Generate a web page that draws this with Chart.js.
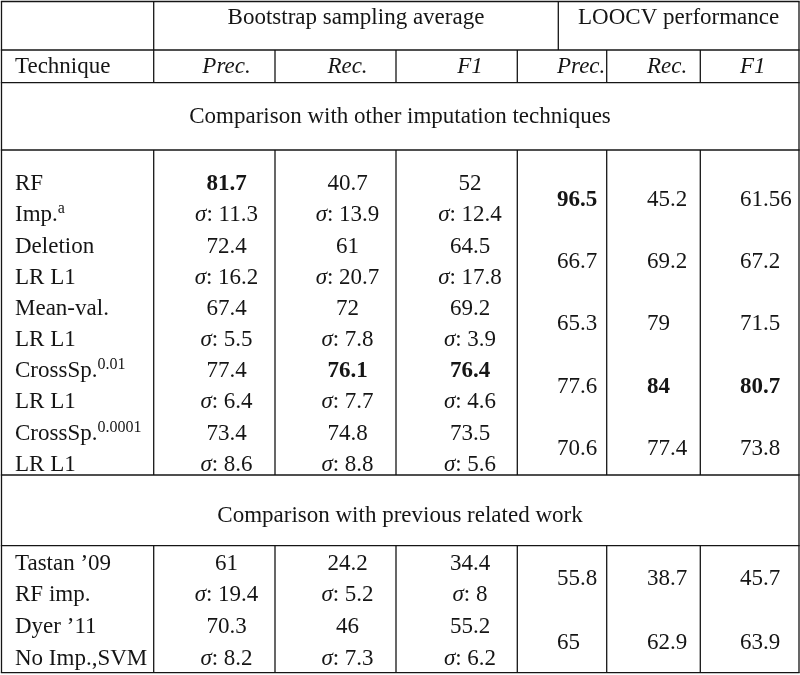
<!DOCTYPE html>
<html><head><meta charset="utf-8">
<script src="https://cdn.jsdelivr.net/npm/chart.js@4"></script>
<style>html,body{margin:0;padding:0;background:#fff}#wrap{width:800px;height:675px;position:relative}</style>
</head><body><div id="wrap"><canvas id="c"></canvas></div>
<script>
// ---- data ----
const groupHeaders = ["Bootstrap sampling average", "LOOCV performance"];
const columnHeaders = ["Technique", "Prec.", "Rec.", "F1", "Prec.", "Rec.", "F1"];
const sections = ["Comparison with other imputation techniques", "Comparison with previous related work"];
const sectionOf = [0, 0, 0, 0, 0, 1, 1];
const techniqueLine1 = ["RF", "Deletion", "Mean-val.", "CrossSp.", "CrossSp.", "Tastan \u201909", "Dyer \u201911"];
const techniqueSup1 = ["", "", "", "0.01", "0.0001", "", ""];
const techniqueLine2 = ["Imp.", "LR L1", "LR L1", "LR L1", "LR L1", "RF imp.", "No Imp.,SVM"];
const techniqueSup2 = ["a", "", "", "", "", "", ""];
const bootPrec = [81.7, 72.4, 67.4, 77.4, 73.4, 61, 70.3];
const bootPrecSd = [11.3, 16.2, 5.5, 6.4, 8.6, 19.4, 8.2];
const bootRec = [40.7, 61, 72, 76.1, 74.8, 24.2, 46];
const bootRecSd = [13.9, 20.7, 7.8, 7.7, 8.8, 5.2, 7.3];
const bootF1 = [52, 64.5, 69.2, 76.4, 73.5, 34.4, 55.2];
const bootF1Sd = [12.4, 17.8, 3.9, 4.6, 5.6, 8, 6.2];
const loocvPrec = [96.5, 66.7, 65.3, 77.6, 70.6, 55.8, 65];
const loocvRec = [45.2, 69.2, 79, 84, 77.4, 38.7, 62.9];
const loocvF1 = [61.56, 67.2, 71.5, 80.7, 73.8, 45.7, 63.9];

// ---- layout (table geometry in scale units) ----
const FONT = '"Liberation Serif","Times New Roman",Times,serif';
const FS = 23, SUP = 16;
const INK = '#151515';
const LW = 1.3;
const xLeft = 1.5, xRight = 799, xTech = 153.7, xSplit = 558.3;
const xInner = [275, 396, 517.3, 606.7, 700.3];
const yTop = 1.5, yH1 = 50, yH2 = 82.7, yS1 = 150, yS1end = 475, yS2 = 545.7, yBottom = 672.7;
const bootCenters = [226.5, 347.5, 470];
const loocvLefts = [557, 647, 740];
const techX = 15;
const sectionBase0 = [190.3, 31.15];
const sectionBase1 = [569.5, 31.8];

const tablePlugin = {
  id: 'tableDraw',
  afterDraw(chart) {
    const ctx = chart.ctx;
    const X = v => chart.scales.x.getPixelForValue(v);
    const Y = v => chart.scales.y.getPixelForValue(v);
    ctx.save();
    ctx.strokeStyle = INK; ctx.lineWidth = LW; ctx.fillStyle = INK;
    const hl = (y, x0, x1) => { ctx.beginPath(); ctx.moveTo(X(x0), Y(y)); ctx.lineTo(X(x1), Y(y)); ctx.stroke(); };
    const vl = (x, y0, y1) => { ctx.beginPath(); ctx.moveTo(X(x), Y(y0)); ctx.lineTo(X(x), Y(y1)); ctx.stroke(); };
    [yTop, yH1, yH2, yS1, yS1end, yS2, yBottom].forEach(y => hl(y, xLeft - LW/2, xRight + LW/2));
    vl(xLeft, yTop, yBottom); vl(xRight, yTop, yBottom);
    vl(xTech, yTop, yH2); vl(xTech, yS1, yS1end); vl(xTech, yS2, yBottom);
    vl(xSplit, yTop, yH1);
    xInner.forEach(x => { vl(x, yH1, yH2); vl(x, yS1, yS1end); vl(x, yS2, yBottom); });

    ctx.textBaseline = 'alphabetic';
    const font = (st, sz) => `${st || ''} ${sz || FS}px ${FONT}`.trim();
    function rich(parts, x, y, align) {
      let w = 0;
      parts.forEach(p => { ctx.font = font(p.st, p.sz); p.w = ctx.measureText(p.t).width; w += p.w; });
      let cx = align === 'center' ? x - w / 2 : align === 'right' ? x - w : x;
      ctx.textAlign = 'left';
      parts.forEach(p => { ctx.font = font(p.st, p.sz); ctx.fillText(p.t, X(cx), Y(y - (p.dy || 0))); cx += p.w; });
    }
    // headers
    rich([{t: groupHeaders[0]}], (xTech + xSplit) / 2, 24, 'center');
    rich([{t: groupHeaders[1]}], (xSplit + xRight) / 2, 24, 'center');
    rich([{t: columnHeaders[0]}], techX, 72.7, 'left');
    for (let j = 0; j < 3; j++) rich([{t: columnHeaders[1 + j], st: 'italic'}], bootCenters[j], 72.7, 'center');
    for (let j = 0; j < 3; j++) rich([{t: columnHeaders[4 + j], st: 'italic'}], loocvLefts[j], 72.7, 'left');
    rich([{t: sections[0]}], 400, 123.3, 'center');
    rich([{t: sections[1]}], 400, 521.7, 'center');

    const cols = [bootPrec, bootRec, bootF1];
    const sds = [bootPrecSd, bootRecSd, bootF1Sd];
    const loo = [loocvPrec, loocvRec, loocvF1];
    const best = arr => Math.max(...arr.filter((v, i) => sectionOf[i] === 0));
    const counters = [0, 0];
    for (let i = 0; i < techniqueLine1.length; i++) {
      const s = sectionOf[i];
      const k = counters[s]++;
      const base = s === 0 ? sectionBase0 : sectionBase1;
      const y1 = base[0] + base[1] * (2 * k);
      const y2 = base[0] + base[1] * (2 * k + 1);
      const t1 = [{t: techniqueLine1[i]}];
      if (techniqueSup1[i]) t1.push({t: techniqueSup1[i], sz: SUP, dy: 8});
      rich(t1, techX, y1, 'left');
      const t2 = [{t: techniqueLine2[i]}];
      if (techniqueSup2[i]) t2.push({t: techniqueSup2[i], sz: SUP, dy: 8});
      rich(t2, techX, y2, 'left');
      for (let j = 0; j < 3; j++) {
        const v = cols[j][i];
        const b = s === 0 && v === best(cols[j]);
        rich([{t: String(v), st: b ? 'bold' : ''}], bootCenters[j], y1, 'center');
        rich([{t: '\u03C3', st: 'italic'}, {t: ': ' + String(sds[j][i])}], bootCenters[j], y2, 'center');
        const lv = loo[j][i];
        const lb = s === 0 && lv === best(loo[j]);
        rich([{t: String(lv), st: lb ? 'bold' : ''}], loocvLefts[j], (y1 + y2) / 2, 'left');
      }
    }
    ctx.restore();
  }
};

new Chart(document.getElementById('c'), {
  type: 'scatter',
  data: {datasets: [{data: [], pointRadius: 0}]},
  options: {
    responsive: true, maintainAspectRatio: false, animation: false, events: [],
    layout: {padding: 0},
    plugins: {legend: {display: false}, tooltip: {enabled: false}},
    scales: {
      x: {type: 'linear', min: 0, max: 800, display: false},
      y: {type: 'linear', min: 0, max: 675, reverse: true, display: false}
    }
  },
  plugins: [tablePlugin]
});
</script></body></html>
